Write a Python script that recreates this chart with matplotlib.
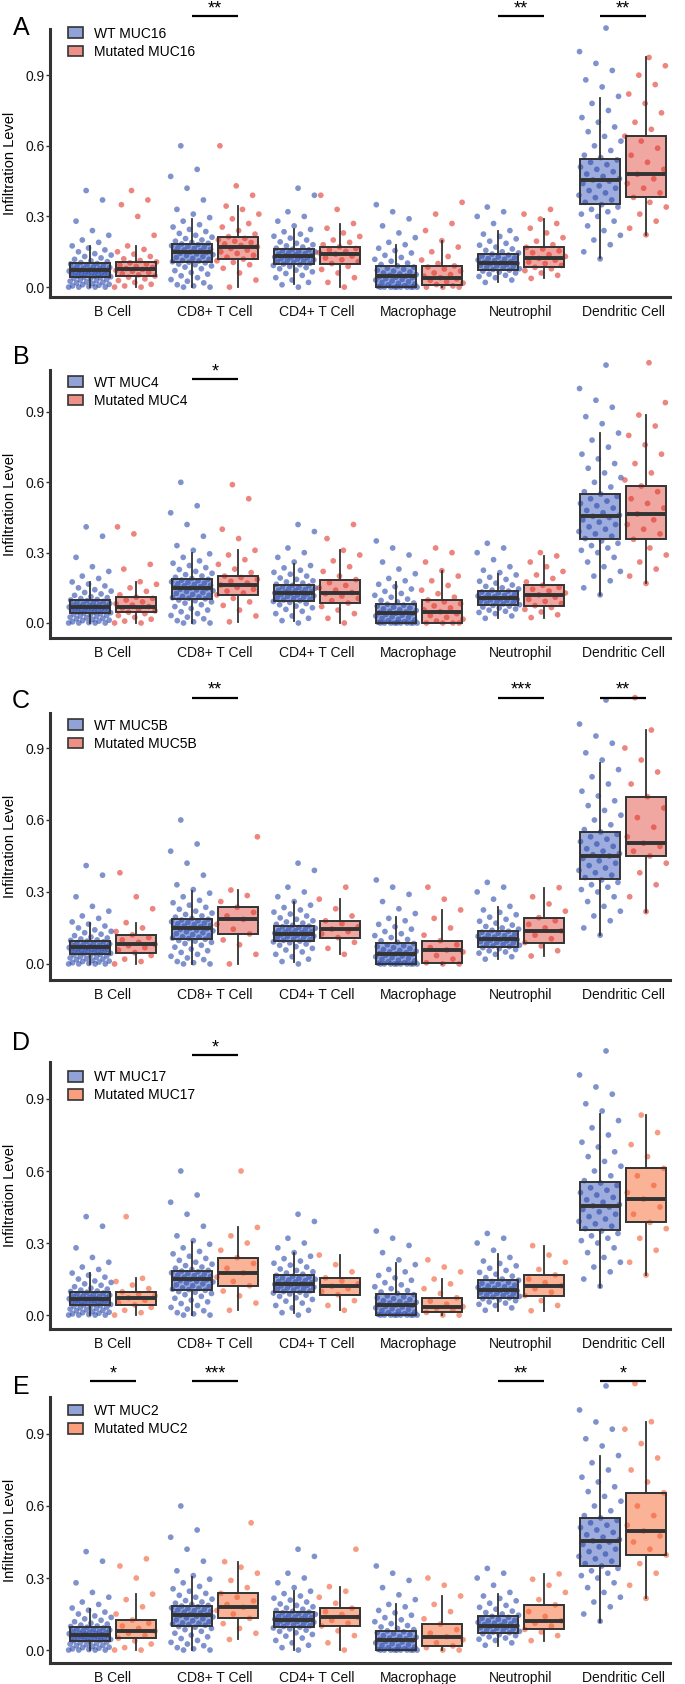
import matplotlib
matplotlib.use('Agg')
import matplotlib.pyplot as plt #library used for plotting
from matplotlib.colors import to_rgba
from matplotlib.patches import Patch
import numpy as np

plt.rcParams['font.family'] = ['Liberation Sans', 'DejaVu Sans']

cell_types = ['B Cell', 'CD8+ T Cell', 'CD4+ T Cell', 'Macrophage', 'Neutrophil', 'Dendritic Cell']
genes = ['MUC16', 'MUC4', 'MUC5B', 'MUC17', 'MUC2']
panel_letters = ['A', 'B', 'C', 'D', 'E']

# box stats per cell type: (whisker low, q1, median, q3, whisker high)
box_wt_muc16 = [(0.0, 0.044, 0.072, 0.101, 0.175), (0.0, 0.105, 0.15, 0.185, 0.29), (0.013, 0.098, 0.132, 0.161, 0.245),
                (0.0, 0.0, 0.047, 0.089, 0.18), (0.023, 0.072, 0.103, 0.14, 0.238), (0.122, 0.352, 0.453, 0.545, 0.805)]
box_mut_muc16 = [(0.0, 0.047, 0.075, 0.107, 0.175), (0.0, 0.119, 0.171, 0.214, 0.344), (0.0, 0.1, 0.14, 0.171, 0.27),
                 (0.0, 0.011, 0.04, 0.09, 0.197), (0.037, 0.084, 0.122, 0.169, 0.289), (0.222, 0.381, 0.479, 0.641, 0.975)]
box_wt_muc4 = [(0.0, 0.041, 0.067, 0.098, 0.176), (0.0, 0.101, 0.148, 0.186, 0.30), (0.01, 0.095, 0.13, 0.16, 0.25),
               (0.0, 0.0, 0.041, 0.08, 0.176), (0.02, 0.075, 0.105, 0.138, 0.209), (0.12, 0.358, 0.458, 0.55, 0.809)]
box_mut_muc4 = [(0.0, 0.046, 0.07, 0.11, 0.176), (0.005, 0.12, 0.162, 0.2, 0.31), (0.0, 0.085, 0.13, 0.185, 0.31),
                (0.0, 0.0, 0.048, 0.098, 0.223), (0.023, 0.074, 0.12, 0.161, 0.286), (0.169, 0.357, 0.465, 0.584, 0.887)]
box_wt_muc5b = [(0.0, 0.042, 0.07, 0.097, 0.172), (0.0, 0.104, 0.151, 0.188, 0.304), (0.01, 0.095, 0.125, 0.16, 0.26),
                (0.0, 0.0, 0.042, 0.089, 0.195), (0.02, 0.07, 0.103, 0.139, 0.236), (0.121, 0.353, 0.45, 0.551, 0.839)]
box_mut_muc5b = [(0.0, 0.047, 0.082, 0.121, 0.172), (0.0, 0.125, 0.186, 0.236, 0.308), (0.04, 0.11, 0.145, 0.18, 0.27),
                 (0.0, 0.005, 0.058, 0.097, 0.225), (0.033, 0.089, 0.138, 0.193, 0.318), (0.218, 0.45, 0.503, 0.697, 0.975)]
box_wt_muc17 = [(0.0, 0.042, 0.067, 0.097, 0.174), (0.0, 0.104, 0.149, 0.185, 0.306), (0.01, 0.097, 0.13, 0.165, 0.26),
                (0.0, 0.0, 0.044, 0.088, 0.215), (0.018, 0.072, 0.104, 0.146, 0.253), (0.118, 0.354, 0.454, 0.556, 0.838)]
box_mut_muc17 = [(0.0, 0.042, 0.072, 0.097, 0.153), (0.02, 0.122, 0.176, 0.239, 0.365), (0.02, 0.085, 0.12, 0.155, 0.25),
                 (0.0, 0.011, 0.035, 0.072, 0.15), (0.018, 0.081, 0.122, 0.167, 0.289), (0.167, 0.386, 0.483, 0.611, 0.833)]
box_wt_muc2 = [(0.0, 0.039, 0.063, 0.094, 0.169), (0.0, 0.1, 0.144, 0.183, 0.303), (0.0, 0.094, 0.125, 0.16, 0.247),
               (0.0, 0.0, 0.042, 0.081, 0.19), (0.017, 0.069, 0.101, 0.142, 0.233), (0.118, 0.351, 0.454, 0.549, 0.808)]
box_mut_muc2 = [(0.0, 0.049, 0.079, 0.125, 0.233), (0.044, 0.132, 0.178, 0.236, 0.368), (0.0, 0.1, 0.136, 0.174, 0.264),
                (0.0, 0.017, 0.056, 0.108, 0.225), (0.039, 0.086, 0.122, 0.188, 0.317), (0.215, 0.396, 0.496, 0.655, 0.951)]

# WT sample values (similar in every panel)
wt_bcell = [0.0, 0.0, 0.0, 0.0, 0.002, 0.005, 0.008, 0.01, 0.012, 0.015, 0.018, 0.02, 0.022, 0.025, 0.028, 0.03, 0.033,
            0.036, 0.038, 0.04, 0.042, 0.044, 0.046, 0.047, 0.05, 0.052, 0.054, 0.055, 0.057, 0.06, 0.061, 0.062, 0.064,
            0.066, 0.068, 0.069, 0.07, 0.072, 0.074, 0.076, 0.078, 0.08, 0.083, 0.086, 0.089, 0.092, 0.095, 0.098, 0.1,
            0.104, 0.108, 0.112, 0.118, 0.124, 0.13, 0.136, 0.142, 0.15, 0.158, 0.166, 0.175, 0.19, 0.2, 0.22, 0.24, 0.28,
            0.37, 0.41]
wt_cd8 = [0.0, 0.0, 0.005, 0.01, 0.018, 0.025, 0.032, 0.04, 0.048, 0.055, 0.062, 0.07, 0.078, 0.085, 0.09, 0.095, 0.098,
          0.103, 0.106, 0.108, 0.111, 0.113, 0.118, 0.122, 0.126, 0.13, 0.134, 0.138, 0.141, 0.144, 0.147, 0.149, 0.152,
          0.155, 0.158, 0.161, 0.164, 0.167, 0.17, 0.173, 0.176, 0.18, 0.183, 0.186, 0.19, 0.195, 0.2, 0.206, 0.212,
          0.22, 0.228, 0.236, 0.245, 0.255, 0.265, 0.28, 0.295, 0.31, 0.33, 0.37, 0.42, 0.47, 0.5, 0.6]
wt_cd4 = [0.0, 0.01, 0.02, 0.03, 0.04, 0.05, 0.058, 0.065, 0.072, 0.078, 0.083, 0.088, 0.092, 0.095, 0.098, 0.101, 0.104,
          0.107, 0.11, 0.113, 0.116, 0.119, 0.121, 0.124, 0.126, 0.128, 0.13, 0.133, 0.135, 0.138, 0.14, 0.143, 0.146,
          0.149, 0.152, 0.155, 0.158, 0.161, 0.165, 0.17, 0.175, 0.18, 0.186, 0.192, 0.2, 0.208, 0.216, 0.225, 0.235,
          0.245, 0.26, 0.28, 0.3, 0.32, 0.39, 0.42]
wt_macro = [0.0, 0.0, 0.0, 0.0, 0.0, 0.0, 0.0, 0.0, 0.0, 0.0, 0.003, 0.006, 0.01, 0.013, 0.016, 0.02, 0.023, 0.026, 0.03,
            0.033, 0.036, 0.04, 0.042, 0.044, 0.047, 0.05, 0.053, 0.056, 0.06, 0.064, 0.068, 0.072, 0.076, 0.08, 0.085,
            0.09, 0.096, 0.102, 0.11, 0.118, 0.126, 0.135, 0.145, 0.155, 0.165, 0.18, 0.19, 0.21, 0.23, 0.26, 0.29, 0.32,
            0.35]
wt_neutro = [0.02, 0.03, 0.04, 0.045, 0.05, 0.055, 0.06, 0.064, 0.068, 0.072, 0.075, 0.078, 0.081, 0.084, 0.087, 0.09,
             0.093, 0.096, 0.099, 0.101, 0.103, 0.106, 0.109, 0.112, 0.115, 0.118, 0.121, 0.124, 0.128, 0.132, 0.136,
             0.14, 0.145, 0.15, 0.156, 0.162, 0.17, 0.178, 0.186, 0.195, 0.205, 0.215, 0.225, 0.24, 0.27, 0.3, 0.32, 0.34]
wt_dendri = [0.12, 0.15, 0.18, 0.2, 0.22, 0.24, 0.26, 0.28, 0.3, 0.31, 0.32, 0.33, 0.34, 0.35, 0.36, 0.37, 0.38, 0.39,
             0.4, 0.41, 0.42, 0.43, 0.44, 0.45, 0.455, 0.46, 0.47, 0.48, 0.49, 0.5, 0.51, 0.52, 0.53, 0.54, 0.55, 0.56,
             0.58, 0.6, 0.62, 0.64, 0.66, 0.68, 0.7, 0.72, 0.75, 0.78, 0.81, 0.85, 0.88, 0.92, 0.95, 1.0, 1.1]

# mutated sample values, one list per cell type
mut_pts_muc16 = [
    [0, 0, 0.005, 0.012, 0.02, 0.028, 0.035, 0.042, 0.047, 0.052, 0.057, 0.062, 0.067, 0.071, 0.075, 0.079, 0.083, 0.088,
     0.093, 0.098, 0.103, 0.107, 0.113, 0.12, 0.13, 0.14, 0.15, 0.16, 0.175, 0.22, 0.3, 0.35, 0.37, 0.41],
    [0, 0.03, 0.06, 0.08, 0.095, 0.105, 0.112, 0.119, 0.127, 0.135, 0.143, 0.15, 0.157, 0.164, 0.171, 0.177, 0.183,
     0.189, 0.195, 0.201, 0.207, 0.214, 0.225, 0.24, 0.255, 0.27, 0.29, 0.31, 0.33, 0.344, 0.39, 0.43, 0.6],
    [0, 0.02, 0.04, 0.06, 0.075, 0.088, 0.1, 0.108, 0.116, 0.124, 0.132, 0.14, 0.146, 0.152, 0.158, 0.164, 0.171, 0.18,
     0.19, 0.2, 0.215, 0.23, 0.25, 0.27, 0.33, 0.39],
    [0, 0, 0, 0.005, 0.011, 0.017, 0.023, 0.029, 0.035, 0.04, 0.046, 0.053, 0.06, 0.068, 0.077, 0.085, 0.09, 0.1, 0.115,
     0.13, 0.15, 0.17, 0.197, 0.24, 0.27, 0.31, 0.36],
    [0.037, 0.05, 0.06, 0.07, 0.078, 0.084, 0.092, 0.1, 0.107, 0.114, 0.122, 0.13, 0.138, 0.146, 0.154, 0.162, 0.169,
     0.18, 0.195, 0.21, 0.23, 0.25, 0.27, 0.289, 0.31, 0.33],
    [0.222, 0.25, 0.28, 0.31, 0.34, 0.36, 0.381, 0.4, 0.42, 0.44, 0.46, 0.479, 0.5, 0.53, 0.56, 0.59, 0.62, 0.641, 0.67,
     0.7, 0.74, 0.78, 0.82, 0.86, 0.9, 0.94, 0.975],
]
mut_pts_muc4 = [
    [0, 0, 0.008, 0.016, 0.024, 0.032, 0.04, 0.046, 0.052, 0.058, 0.064, 0.07, 0.076, 0.082, 0.09, 0.098, 0.105, 0.11,
     0.12, 0.135, 0.15, 0.165, 0.176, 0.23, 0.25, 0.38, 0.41],
    [0.005, 0.03, 0.055, 0.075, 0.09, 0.105, 0.12, 0.128, 0.136, 0.144, 0.152, 0.162, 0.17, 0.178, 0.186, 0.194, 0.2,
     0.215, 0.23, 0.25, 0.27, 0.29, 0.31, 0.36, 0.4, 0.53, 0.59],
    [0, 0.02, 0.04, 0.055, 0.07, 0.085, 0.095, 0.105, 0.115, 0.125, 0.13, 0.14, 0.15, 0.16, 0.172, 0.185, 0.2, 0.22,
     0.24, 0.265, 0.29, 0.31, 0.36, 0.42],
    [0, 0, 0, 0, 0.008, 0.016, 0.024, 0.032, 0.04, 0.048, 0.056, 0.064, 0.073, 0.082, 0.09, 0.098, 0.11, 0.125, 0.14,
     0.16, 0.18, 0.2, 0.223, 0.26, 0.3, 0.32],
    [0.023, 0.035, 0.047, 0.058, 0.066, 0.074, 0.083, 0.092, 0.101, 0.11, 0.12, 0.128, 0.136, 0.144, 0.152, 0.161,
     0.175, 0.19, 0.205, 0.22, 0.24, 0.26, 0.286, 0.3],
    [0.169, 0.2, 0.23, 0.26, 0.29, 0.32, 0.357, 0.38, 0.4, 0.42, 0.44, 0.465, 0.49, 0.51, 0.53, 0.56, 0.584, 0.61, 0.64,
     0.68, 0.72, 0.76, 0.8, 0.84, 0.887, 0.94, 1.11],
]
mut_pts_muc5b = [
    [0, 0.01, 0.02, 0.035, 0.047, 0.058, 0.068, 0.076, 0.082, 0.09, 0.1, 0.11, 0.121, 0.135, 0.15, 0.172, 0.23, 0.28, 0.38],
    [0, 0.04, 0.08, 0.1, 0.125, 0.145, 0.165, 0.186, 0.2, 0.215, 0.236, 0.26, 0.285, 0.308, 0.53],
    [0.04, 0.065, 0.09, 0.11, 0.125, 0.135, 0.145, 0.155, 0.168, 0.18, 0.2, 0.23, 0.27, 0.32],
    [0, 0, 0.005, 0.02, 0.035, 0.05, 0.058, 0.068, 0.08, 0.097, 0.12, 0.15, 0.19, 0.225, 0.27, 0.32],
    [0.033, 0.055, 0.075, 0.089, 0.105, 0.12, 0.138, 0.15, 0.165, 0.18, 0.193, 0.22, 0.25, 0.28, 0.318],
    [0.218, 0.28, 0.33, 0.38, 0.42, 0.45, 0.47, 0.49, 0.503, 0.53, 0.57, 0.61, 0.65, 0.697, 0.75, 0.8, 0.85, 0.9,
     0.975, 1.11],
]
mut_pts_muc17 = [
    [0, 0.01, 0.02, 0.032, 0.042, 0.052, 0.062, 0.072, 0.08, 0.088, 0.097, 0.11, 0.125, 0.14, 0.153, 0.41],
    [0.02, 0.05, 0.08, 0.1, 0.122, 0.14, 0.158, 0.176, 0.195, 0.215, 0.239, 0.27, 0.3, 0.33, 0.365, 0.6],
    [0.02, 0.04, 0.06, 0.085, 0.098, 0.11, 0.12, 0.13, 0.142, 0.155, 0.18, 0.21, 0.25],
    [0, 0, 0.011, 0.02, 0.028, 0.035, 0.045, 0.058, 0.072, 0.09, 0.11, 0.13, 0.15, 0.18, 0.2, 0.23],
    [0.018, 0.04, 0.06, 0.081, 0.095, 0.11, 0.122, 0.135, 0.15, 0.167, 0.19, 0.22, 0.25, 0.289],
    [0.167, 0.22, 0.27, 0.32, 0.36, 0.386, 0.42, 0.45, 0.483, 0.51, 0.54, 0.58, 0.611, 0.66, 0.71, 0.76, 0.833],
]
mut_pts_muc2 = [
    [0, 0, 0.01, 0.025, 0.038, 0.049, 0.06, 0.07, 0.079, 0.09, 0.1, 0.112, 0.125, 0.15, 0.18, 0.21, 0.233, 0.3, 0.35, 0.38],
    [0.044, 0.07, 0.09, 0.11, 0.132, 0.15, 0.165, 0.178, 0.19, 0.205, 0.22, 0.236, 0.26, 0.29, 0.32, 0.345, 0.368, 0.53],
    [0, 0.03, 0.06, 0.08, 0.1, 0.112, 0.124, 0.136, 0.148, 0.16, 0.174, 0.195, 0.22, 0.245, 0.264, 0.42],
    [0, 0, 0.01, 0.017, 0.03, 0.043, 0.056, 0.07, 0.085, 0.108, 0.13, 0.16, 0.19, 0.225, 0.27, 0.3],
    [0.039, 0.06, 0.075, 0.086, 0.1, 0.112, 0.122, 0.14, 0.16, 0.188, 0.21, 0.24, 0.27, 0.295, 0.317],
    [0.215, 0.27, 0.32, 0.36, 0.396, 0.42, 0.45, 0.475, 0.496, 0.52, 0.56, 0.6, 0.655, 0.7, 0.75, 0.8, 0.86, 0.92,
     0.951, 1.11],
]

# significance marks: (cell type index, label)
sig_muc16 = [(1, '**'), (4, '**'), (5, '**')]
sig_muc4 = [(1, '*')]
sig_muc5b = [(1, '**'), (4, '***'), (5, '**')]
sig_muc17 = [(1, '*')]
sig_muc2 = [(0, '*'), (1, '***'), (4, '**'), (5, '*')]

wt_pts = [wt_bcell, wt_cd8, wt_cd4, wt_macro, wt_neutro, wt_dendri]
panels = [
    (box_wt_muc16, box_mut_muc16, mut_pts_muc16, sig_muc16),
    (box_wt_muc4, box_mut_muc4, mut_pts_muc4, sig_muc4),
    (box_wt_muc5b, box_mut_muc5b, mut_pts_muc5b, sig_muc5b),
    (box_wt_muc17, box_mut_muc17, mut_pts_muc17, sig_muc17),
    (box_wt_muc2, box_mut_muc2, mut_pts_muc2, sig_muc2),
]

# layout (pixels from top) and styling per panel
W, H = 685, 1684
ax_top = [29, 370, 713, 1062, 1397]
ax_bot = [297, 638, 980, 1329, 1663]
ylims = [(-0.042, 1.096), (-0.064, 1.079), (-0.067, 1.046), (-0.058, 1.054), (-0.054, 1.054)]
sig_y = [1.15, 1.04, 1.11, 1.083, 1.12]
letter_y = [28, 357, 701, 1043, 1387]
legend_y = [1.03, 1.0, 1.0, 0.99, 0.995]
mut_pt_col = ['#e2342a', '#e2342a', '#e2342a', '#f35a32', '#f35a32']
mut_box_col = ['#ec8a82', '#ec8a82', '#ec8a82', '#fa9a76', '#fa9a76']
wt_pt_col = '#2a4aac'
wt_box_col = '#7e92d2'
edge = '#333333'
dodge = 0.225
bw = 0.39

fig = plt.figure(figsize=(W / 100, H / 100), dpi=100)
x = np.arange(1, len(cell_types) + 1)

for p, (bwt, bmut, mpts, sigs) in enumerate(panels):
    ax = fig.add_axes([50 / W, 1 - ax_bot[p] / H, 620 / W, (ax_bot[p] - ax_top[p]) / H])

    # boxes (fill below the points, lines above)
    for stats_in, off, fc in [(bwt, -dodge, wt_box_col), (bmut, dodge, mut_box_col[p])]:
        stats = [dict(whislo=s[0], q1=s[1], med=s[2], q3=s[3], whishi=s[4], fliers=[]) for s in stats_in]
        arts = ax.bxp(stats, positions=x + off, widths=bw, patch_artist=True, showfliers=False, showcaps=False,
                      boxprops=dict(facecolor=to_rgba(fc, 0.75), edgecolor=edge, linewidth=1.4),
                      medianprops=dict(color=edge, linewidth=2.8, solid_capstyle='butt'),
                      whiskerprops=dict(color=edge, linewidth=1.3), manage_ticks=False)
        for b in arts['boxes']:
            b.set_zorder(1.5)
            edge_only = plt.Polygon(b.get_path().vertices, closed=True, fill=False, edgecolor=edge,
                                    linewidth=1.4, zorder=3)
            ax.add_patch(edge_only)
            b.set_edgecolor('none')
        for ln in arts['medians'] + arts['whiskers']:
            ln.set_zorder(3)

    # jittered points
    for i in range(len(cell_types)):
        for vals, off, col in [(wt_pts[i], -dodge, wt_pt_col), (mpts[i], dodge, mut_pt_col[p])]:
            n = len(vals)
            jit = ((np.arange(n) * 0.6180339887 + 0.3 * i) % 1 - 0.5) * 0.42
            ax.scatter(x[i] + off + jit, vals, s=17, color=col, alpha=0.6, edgecolors='none',
                       zorder=2, clip_on=False)

    # significance bars
    for ci, lab in sigs:
        ax.plot([x[ci] - dodge, x[ci] + dodge], [sig_y[p], sig_y[p]], color='black', lw=1.6,
                clip_on=False, solid_capstyle='butt')
        ax.annotate(lab, (x[ci], sig_y[p]), xytext=(0, -0.8), textcoords='offset points',
                    ha='center', va='bottom', fontsize=13, annotation_clip=False)

    ax.set_xlim(0.382, 6.46)
    ax.set_ylim(*ylims[p])
    ax.set_xticks(x)
    ax.set_xticklabels(cell_types, fontsize=10, color='#111111')
    ax.set_yticks([0.0, 0.3, 0.6, 0.9])
    ax.set_yticklabels(['0.0', '0.3', '0.6', '0.9'], fontsize=10, color='#111111')
    ax.tick_params(axis='x', length=0, pad=6)
    ax.tick_params(axis='y', length=3, width=1, color=edge, pad=1)
    for side in ['top', 'right']:
        ax.spines[side].set_visible(False)
    for side in ['left', 'bottom']:
        ax.spines[side].set_linewidth(2.2)
        ax.spines[side].set_color(edge)

    handles = [Patch(facecolor=to_rgba(wt_box_col, 0.85), edgecolor=edge, linewidth=1.2),
               Patch(facecolor=to_rgba(mut_box_col[p], 0.95), edgecolor=edge, linewidth=1.2)]
    ax.legend(handles, ['WT ' + genes[p], 'Mutated ' + genes[p]], loc='upper left',
              bbox_to_anchor=(0.02, legend_y[p]), frameon=False, fontsize=10, handlelength=1.1,
              handleheight=0.8, labelspacing=0.3, handletextpad=0.8, borderaxespad=0)

    fig.text(10 / W, 1 - (ax_top[p] + ax_bot[p]) / 2 / H, 'Infiltration Level', rotation=90,
             ha='center', va='center', fontsize=10.5)
    fig.text(21 / W, 1 - letter_y[p] / H, panel_letters[p], ha='center', va='center', fontsize=18)

fig.savefig('out.png', dpi=100)
